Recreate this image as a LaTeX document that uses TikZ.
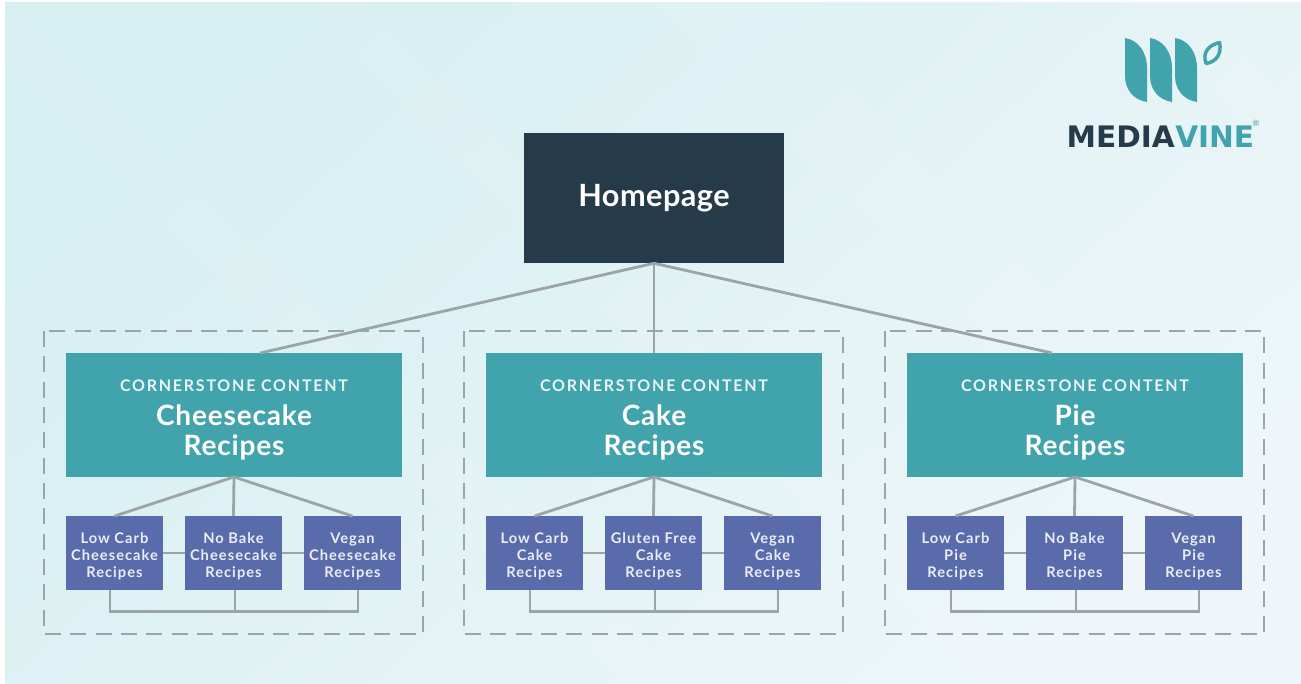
\documentclass[tikz,border=0pt]{standalone}
\usepackage{fontspec}
\setmainfont{Lato}
\newfontfamily\logofont{DejaVu Sans}
\definecolor{navy}{HTML}{263B4A}
\definecolor{teal}{HTML}{41A3AB}
\definecolor{slateb}{HTML}{5A6BAB}
\definecolor{wire}{HTML}{9BA4A7}
\definecolor{bgA}{HTML}{D6EFF1}
\definecolor{bgB}{HTML}{EEF6F9}
\newcommand{\cornerfont}{\addfontfeatures{LetterSpace=11}\fontsize{12}{14}\selectfont\color{white!88!teal}}
\newcommand{\titlefont}{\bfseries\addfontfeatures{LetterSpace=3}\fontsize{21}{22.2}\selectfont}
\newcommand{\lf}{\rule{0pt}{13pt}}
\tikzset{
 wirel/.style={draw=wire,line width=2.1pt},
 dashbox/.style={draw=wire,line width=2.1pt,dash pattern=on 12pt off 7pt},
 homebox/.style={fill=navy,text=white,minimum width=194.5pt,minimum height=97.5pt,inner sep=0pt,font=\bfseries\addfontfeatures{LetterSpace=1.5}\fontsize{23}{26}\selectfont},
 cornerbox/.style={fill=teal,text=white,minimum width=252pt,minimum height=92.5pt,inner sep=0pt,align=center,font=\titlefont},
 leafbox/.style={fill=slateb,text=white!88!slateb,minimum width=73pt,minimum height=55pt,inner sep=0pt,align=center,font=\bfseries\addfontfeatures{LetterSpace=7}\fontsize{11}{12.9}\selectfont},
 logo/.style={inner sep=0pt,font=\logofont\bfseries\fontsize{22.2}{26}\selectfont},
}
\newcommand{\cgroup}[6]{%
 \begin{scope}[xshift=#1*0.75pt]
  \node[cornerbox] (c#2) at (234,415) {\rule{0pt}{16pt}{\cornerfont CORNERSTONE CONTENT}\\[3.8pt]#3\\Recipes};
  \node[leafbox] (a#2) at (114.5,553) {\lf #4};
  \node[leafbox] (b#2) at (233.5,553) {\lf #5};
  \node[leafbox] (d#2) at (352.5,553) {\lf #6};
  \draw[wirel] (c#2.south) -- (a#2.north);
  \draw[wirel] (c#2.south) -- (b#2.north);
  \draw[wirel] (c#2.south) -- (d#2.north);
  \draw[wirel] (a#2.east) -- (b#2.west);
  \draw[wirel] (b#2.east) -- (d#2.west);
  \coordinate (p#2) at (110,590);
  \coordinate (q#2) at (358,590);
  \coordinate (r#2) at (235,590);
  \draw[wirel] (p#2) -- ++(0,21.5) -| (q#2);
  \draw[wirel] (r#2) -- ++(0,21.5);
  \draw[dashbox] (44,331) rectangle (423,634);
 \end{scope}%
}
\begin{document}
\begin{tikzpicture}[x=0.75pt,y=-0.75pt]
\useasboundingbox (0,0) rectangle (1301,683);
\shade[left color=bgA,right color=bgB,shading angle=42] (5,2) rectangle (1301,683);
\begin{scope}
\clip (5,2) rectangle (1301,683);
\foreach \x/\w in {-60/70,300/60,650/110,1120/70}{
 \fill[white,opacity=0.06] (\x,2) -- (\x+\w,2) -- (\x+\w+700,702) -- (\x+700,702) -- cycle;
}
\end{scope}
\node[homebox] (home) at (654,198) {Homepage};
\cgroup{0}{x}{Cheesecake}{Low Carb\\Cheesecake\\Recipes}{No Bake\\Cheesecake\\Recipes}{Vegan\\Cheesecake\\Recipes}
\cgroup{420}{y}{Cake}{Low Carb\\Cake\\Recipes}{Gluten Free\\Cake\\Recipes}{Vegan\\Cake\\Recipes}
\cgroup{841}{z}{Pie}{Low Carb\\Pie\\Recipes}{No Bake\\Pie\\Recipes}{Vegan\\Pie\\Recipes}
\coordinate (tx) at (260,353);
\coordinate (tz) at (1052,353);
\draw[wirel] (home.south) -- (tx);
\draw[wirel] (home.south) -- (cy.north);
\draw[wirel] (home.south) -- (tz);
% logo
\foreach \d in {0,25,50}{
\fill[teal,xshift=\d*0.75pt] (1125,38) .. controls (1138,40) and (1147,52) .. (1147,68) -- (1147,102) .. controls (1134,100) and (1125,90) .. (1125,76) -- cycle;
}
\draw[teal,line width=2.6pt,line join=round] (1206,63.5) .. controls (1202,52) and (1209,45) .. (1219.5,42.5) .. controls (1222,54) and (1216,62) .. (1206,63.5) -- cycle;
\node[logo,text=navy,anchor=base east] (mv1) at (1175,147) {MEDIA};
\node[logo,text=teal,anchor=base west] (mv2) at (mv1.base east) {VINE};
\node[text=teal,inner sep=0pt,font=\fontsize{6.5}{7}\selectfont,anchor=west] (mv3) at (1252,123) {®};
\end{tikzpicture}
\end{document}
